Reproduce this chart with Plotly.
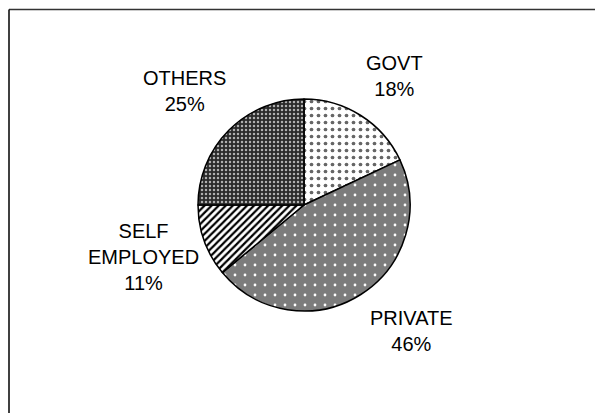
import plotly.graph_objects as go

# ---- data ----
categories = ["GOVT", "PRIVATE", "SELF<br>EMPLOYED", "OTHERS"]
values = [18, 46, 11, 25]

# ---- styles ----
W, H = 595, 413
pattern_shapes = [".", ".", "/", "."]
pattern_bg = ["#ffffff", "#7c7c7c", "#ffffff", "#2a2a2a"]
pattern_fg = ["#666666", "#ffffff", "#000000", "#b0b0b0"]
pattern_size = [7, 10, 5, 4]
pattern_solidity = [0.22, 0.06, 0.45, 0.3]

# label block centres in pixels (layout only)
label_px = [(394, 76), (411, 331), (143, 257), (184, 91)]

fig = go.Figure(
    go.Pie(
        labels=categories,
        values=values,
        sort=False,
        direction="clockwise",
        rotation=0,
        textinfo="none",
        showlegend=False,
        marker=dict(
            colors=pattern_bg,
            line=dict(color="#000000", width=1.5),
            pattern=dict(
                shape=pattern_shapes,
                bgcolor=pattern_bg,
                fgcolor=pattern_fg,
                size=pattern_size,
                solidity=pattern_solidity,
                fillmode="replace",
            ),
        ),
        domain=dict(x=[198 / W, 410 / W], y=[1 - 311 / H, 1 - 99 / H]),
    )
)

total = sum(values)
annotations = []
for cat, v, (px, py) in zip(categories, values, label_px):
    annotations.append(
        dict(
            text=f"{cat}<br>{round(100 * v / total)}%",
            x=px / W,
            y=1 - py / H,
            xref="paper",
            yref="paper",
            xanchor="center",
            yanchor="middle",
            showarrow=False,
            align="center",
            font=dict(family="Liberation Sans, Arial, sans-serif", size=20, color="#000000"),
        )
    )

shapes = [
    dict(type="line", xref="paper", yref="paper", x0=9 / W, x1=1.0, y0=1 - 9.5 / H, y1=1 - 9.5 / H,
         line=dict(color="#333333", width=1.5)),
    dict(type="line", xref="paper", yref="paper", x0=9 / W, x1=9 / W, y0=0, y1=1 - 9.5 / H,
         line=dict(color="#000000", width=1.5)),
]

fig.update_layout(
    width=W,
    height=H,
    margin=dict(l=0, r=0, t=0, b=0),
    paper_bgcolor="#ffffff",
    plot_bgcolor="#ffffff",
    annotations=annotations,
    shapes=shapes,
)

fig.write_html("out.html")
